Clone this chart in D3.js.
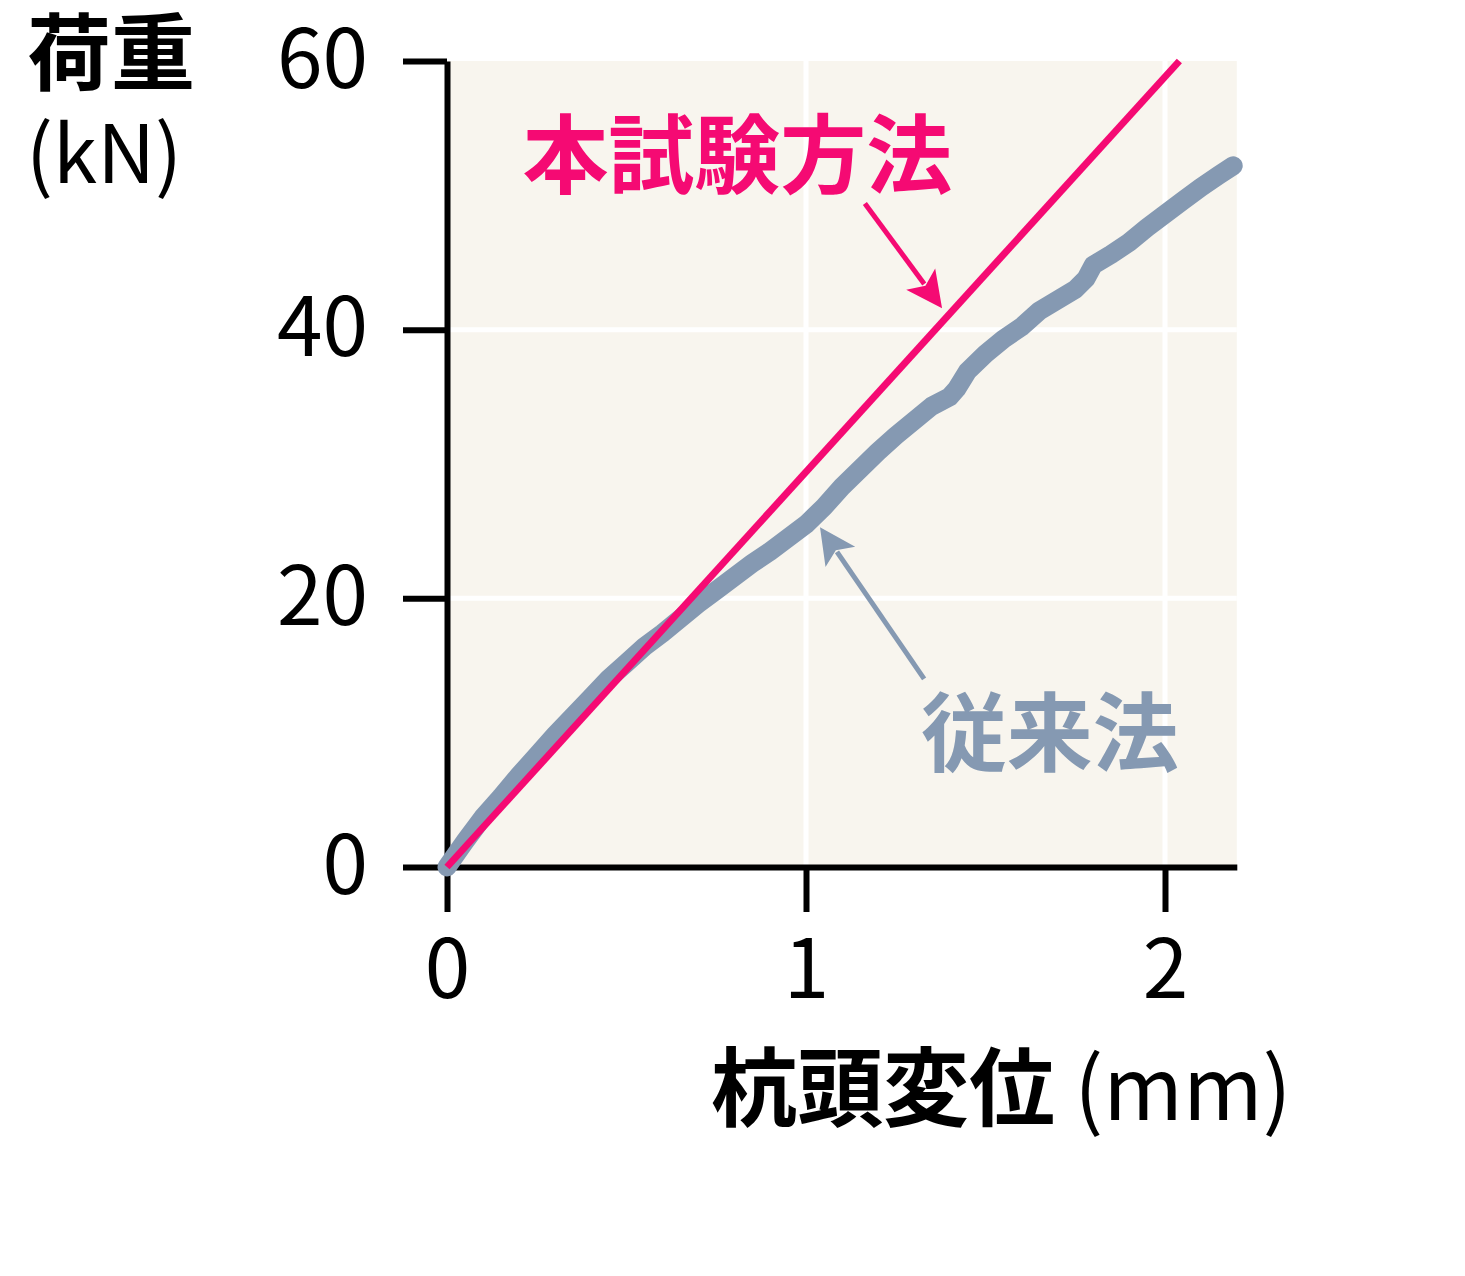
<!DOCTYPE html>
<html lang="ja">
<head>
<meta charset="UTF-8">
<title>荷重-杭頭変位</title>
<script src="https://cdn.jsdelivr.net/npm/d3@7"></script>
<style>
  body { margin: 0; background: #fff; }
  svg text { font-family: "Noto Sans CJK JP", "Noto Sans", sans-serif; }
</style>
</head>
<body>
<div id="chart"></div>
<script>
const convDisp = [0, 0.05, 0.1, 0.15, 0.2, 0.25, 0.3, 0.35, 0.4, 0.45, 0.5, 0.55, 0.6, 0.65, 0.7,
  0.75, 0.8, 0.85, 0.9, 0.95, 1.0, 1.05, 1.1, 1.15, 1.2, 1.25, 1.3, 1.35, 1.4, 1.42, 1.45,
  1.5, 1.55, 1.6, 1.65, 1.7, 1.75, 1.78, 1.8, 1.85, 1.9, 1.95, 2.0, 2.05, 2.1, 2.15, 2.19];
const convLoad = [0, 1.9, 3.7, 5.2, 6.8, 8.3, 9.8, 11.2, 12.6, 14.0, 15.2, 16.4, 17.4, 18.5, 19.6,
  20.6, 21.6, 22.6, 23.5, 24.5, 25.5, 26.8, 28.3, 29.6, 30.9, 32.1, 33.2, 34.3, 35.0, 35.6, 36.9,
  38.2, 39.3, 40.2, 41.4, 42.2, 43.0, 43.8, 44.8, 45.6, 46.5, 47.6, 48.6, 49.6, 50.6, 51.5, 52.2];

// 本試験方法 (straight line)
const newDisp = [0, 2.04];
const newLoad = [0, 60];

const xTicks = [0, 1, 2];
const yTicks = [0, 20, 40, 60];

const pink = "#f50a73", grey = "#8599b2";

const width = 1465, height = 1276;
const svg = d3.select("#chart").append("svg")
  .attr("width", width).attr("height", height);

const x = d3.scaleLinear().domain([0, 2.2]).range([447, 447 + 2.2 * 359]);
const y = d3.scaleLinear().domain([0, 60]).range([867, 61]);

// plot background + white grid
svg.append("rect")
  .attr("x", x(0)).attr("y", y(60))
  .attr("width", x(2.2) - x(0)).attr("height", y(0) - y(60))
  .attr("fill", "#f8f5ee");

svg.append("g").selectAll("line")
  .data(xTicks.slice(1))
  .join("line")
  .attr("x1", d => x(d)).attr("x2", d => x(d))
  .attr("y1", y(60)).attr("y2", y(0))
  .attr("stroke", "#fff").attr("stroke-width", 5);

svg.append("g").selectAll("line")
  .data(yTicks.slice(1, -1))
  .join("line")
  .attr("x1", x(0)).attr("x2", x(2.2))
  .attr("y1", d => y(d)).attr("y2", d => y(d))
  .attr("stroke", "#fff").attr("stroke-width", 5);

// axes
const yAxis = svg.append("g")
  .attr("transform", `translate(${x(0)},0)`)
  .call(d3.axisLeft(y).tickValues(yTicks).tickSize(44).tickSizeOuter(0).tickPadding(35));

const xAxis = svg.append("g")
  .attr("transform", `translate(0,${y(0)})`)
  .call(d3.axisBottom(x).tickValues(xTicks).tickFormat(d3.format("d"))
    .tickSize(45).tickSizeOuter(0).tickPadding(28));

[xAxis, yAxis].forEach(g => {
  g.selectAll("path, line").attr("stroke", "#000").attr("stroke-width", 6);
  g.selectAll("text").attr("fill", "#000").style("font-size", "82px");
});

// data lines
const line = d3.line().x(d => x(d[0])).y(d => y(d[1]));

svg.append("path")
  .datum(d3.zip(convDisp, convLoad))
  .attr("d", line)
  .attr("fill", "none")
  .attr("stroke", grey)
  .attr("stroke-width", 19)
  .attr("stroke-linecap", "round")
  .attr("stroke-linejoin", "round");

svg.append("path")
  .datum(d3.zip(newDisp, newLoad))
  .attr("d", line)
  .attr("fill", "none")
  .attr("stroke", pink)
  .attr("stroke-width", 7);

// annotation arrows
function arrow(from, to, color) {
  const x1 = x(from[0]), y1 = y(from[1]), x2 = x(to[0]), y2 = y(to[1]);
  const a = Math.atan2(y2 - y1, x2 - x1);
  const len = 36, half = 18;
  const bx = x2 - len * Math.cos(a), by = y2 - len * Math.sin(a);
  svg.append("line")
    .attr("x1", x1).attr("y1", y1)
    .attr("x2", bx + 6 * Math.cos(a)).attr("y2", by + 6 * Math.sin(a))
    .attr("stroke", color).attr("stroke-width", 5);
  const pts = [
    [x2, y2],
    [bx - half * Math.sin(a), by + half * Math.cos(a)],
    [bx + 8 * Math.cos(a), by + 8 * Math.sin(a)],
    [bx + half * Math.sin(a), by - half * Math.cos(a)]
  ];
  svg.append("path")
    .attr("d", "M" + pts.join("L") + "Z")
    .attr("fill", color);
}

arrow([1.164, 49.4], [1.379, 41.6], pink);
arrow([1.329, 14.0], [1.039, 25.3], grey);

// labels
svg.append("text")
  .attr("x", x(0.21)).attr("y", y(50.6))
  .attr("fill", pink)
  .style("font-size", "86px").style("font-weight", "bold")
  .text("本試験方法");

svg.append("text")
  .attr("x", x(1.32)).attr("y", y(7.6))
  .attr("fill", grey)
  .style("font-size", "86px").style("font-weight", "bold")
  .text("従来法");

svg.append("text")
  .attr("x", 27).attr("y", 84)
  .style("font-size", "84px").style("font-weight", "bold")
  .text("荷重");

svg.append("text")
  .attr("x", 26).attr("y", 183)
  .style("font-size", "80px")
  .text("(kN)");

const xt = svg.append("text")
  .attr("x", 711).attr("y", 1120)
  .style("font-size", "86px");
xt.append("tspan").style("font-weight", "bold").text("杭頭変位");
xt.append("tspan").text(" (mm)");
</script>
</body>
</html>
